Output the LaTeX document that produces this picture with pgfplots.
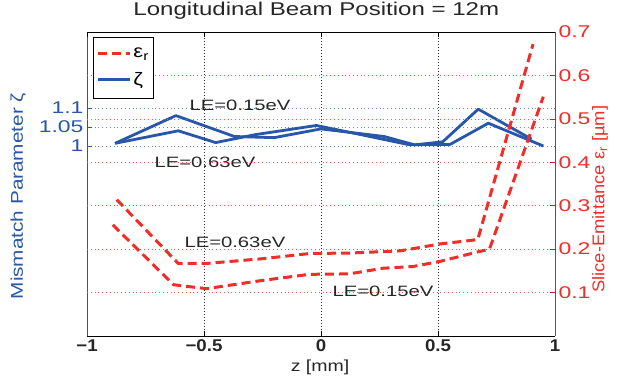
\documentclass[border=0pt]{standalone}
\usepackage{fontspec}
\setmainfont{Liberation Sans}
\newfontfamily\tickf[FakeStretch=1.35]{Liberation Sans}
\newfontfamily\xtickf[FakeStretch=1.1]{Liberation Sans}
\newfontfamily\lef[FakeStretch=1.35]{Liberation Sans}
\newfontfamily\labf[FakeStretch=1.22]{Liberation Sans}
\newfontfamily\labr[FakeStretch=1.08]{Liberation Sans}
\newfontfamily\titf[FakeStretch=1.3]{Liberation Sans}
\usepackage{pgfplots}
\pgfplotsset{compat=1.18}
\definecolor{zblue}{RGB}{40,86,168}
\definecolor{ered}{RGB}{240,45,40}
\definecolor{axred}{RGB}{205,35,40}
\begin{document}
\begin{tikzpicture}
\path[use as bounding box] (-87pt,-44pt) rectangle (530pt,336pt);
\pgfplotsset{every axis/.append style={scale only axis, width=468pt, height=304pt,
  xmin=-1, xmax=1, anchor=south west, at={(0pt,0pt)},
  /pgf/number format/assume math mode=true,
  tick align=inside, major tick length=5pt,
  every tick/.style={line width=0.6pt}}}
% left axis: mismatch parameter
\begin{axis}[
  axis y line*=left, axis x line*=bottom,
  ymin=0.5, ymax=1.3, ytick={1,1.05,1.1}, yticklabels={1,1.05,1.1},
  xtick={-1,-0.5,0,0.5,1}, xticklabels={−1,−0.5,0,0.5,1},
  xticklabel style={font=\xtickf\fontsize{17}{17}\selectfont\bfseries, text=black!85},
  yticklabel style={font=\tickf\fontsize{17}{17}\selectfont, text=zblue},
  x axis line style={black, line width=0.8pt, -},
  y axis line style={zblue, line width=0.8pt, -},
  ytick style={zblue}, xtick style={black},
  xmajorgrids, ymajorgrids,
  x grid style={black!80, line width=0.7pt, dash pattern=on 0.8pt off 2.2pt},
  y grid style={zblue!70, line width=0.7pt, dash pattern=on 0.8pt off 3pt},
  xlabel={z [mm]},
  xlabel style={font=\labf\fontsize{16}{16}\selectfont, text=black!85, at={(rel axis cs:0.498,-0.102)}, anchor=center},
  ylabel={Mismatch Parameter ζ},
  ylabel style={font=\labf\fontsize{17}{17}\selectfont, text=zblue, at={(rel axis cs:-0.147,0.46)}, anchor=center, rotate=0},
  title={Longitudinal Beam Position = 12m},
  title style={font=\titf\fontsize{18.5}{18.5}\selectfont, text=black!85, at={(rel axis cs:0.49,1.033)}, anchor=base},
]
\addplot[zblue, line width=2.8pt, line join=round] coordinates {
(-0.88,1.007) (-0.62,1.080) (-0.37,1.025) (-0.20,1.022) (0.0,1.045) (0.27,1.025) (0.40,1.003) (0.52,1.011) (0.672,1.097) (0.90,1.018)};
\addplot[zblue, line width=2.8pt, line join=round] coordinates {
(-0.88,1.007) (-0.61,1.040) (-0.45,1.009) (-0.28,1.030) (-0.02,1.054) (0.17,1.030) (0.38,1.003) (0.551,1.004) (0.715,1.060) (0.95,1.0)};
\node[font=\lef\fontsize{15}{15}\selectfont, text=black!85] at (axis cs:-0.346,1.108) {LE=0.15eV};
\node[font=\lef\fontsize{15}{15}\selectfont, text=black!85] at (axis cs:-0.496,0.958) {LE=0.63eV};
\end{axis}
% right axis: slice emittance
\begin{axis}[
  axis y line*=right, axis x line*=top,
  ymin=0, ymax=0.7, ytick={0.1,0.2,0.3,0.4,0.5,0.6,0.7},
  xtick={-1,-0.5,0,0.5,1}, xticklabels={},
  yticklabel style={font=\tickf\fontsize{17}{17}\selectfont, text=ered,
    /pgf/number format/.cd, fixed, fixed zerofill, precision=1},
  x axis line style={black, line width=0.8pt, -},
  y axis line style={axred, line width=0.8pt, -},
  ytick style={axred}, xtick style={black},
  ymajorgrids,
  y grid style={ered!80, line width=0.7pt, dash pattern=on 0.8pt off 3pt},
  ylabel={Slice-Emittance ε\textsubscript{r} [µm]},
  ylabel style={font=\labr\fontsize{17}{17}\selectfont, text=ered, at={(rel axis cs:1.096,0.45)}, anchor=center, rotate=0},
  legend style={at={(rel axis cs:0.013,0.984)}, anchor=north west, draw=black, line width=0.8pt,
    font=\labf\fontsize{18}{18}\selectfont, fill=white, inner xsep=3pt, inner ysep=9pt, row sep=9pt},
  legend cell align=left,
  legend image code/.code={\draw[#1] (0pt,0pt) -- (32pt,0pt);},
]
\addplot[ered, line width=3pt, dash pattern=on 9pt off 5pt] coordinates {
(-0.873,0.314) (-0.61,0.167) (-0.49,0.167) (-0.25,0.178) (-0.047,0.190) (0.12,0.191) (0.338,0.196) (0.509,0.212) (0.67,0.222) (0.906,0.672)};
\addlegendentry{ε\textsubscript{r}}
\addplot[ered, line width=3pt, dash pattern=on 9pt off 5pt, forget plot] coordinates {
(-0.89,0.256) (-0.63,0.118) (-0.49,0.109) (-0.25,0.128) (-0.05,0.142) (0.12,0.143) (0.265,0.156) (0.393,0.160) (0.51,0.172) (0.65,0.191) (0.72,0.200) (0.95,0.551)};
\addlegendimage{zblue, line width=2.8pt}
\addlegendentry{ζ}
\node[font=\lef\fontsize{15}{15}\selectfont, text=black!85] at (axis cs:-0.368,0.215) {LE=0.63eV};
\node[font=\lef\fontsize{15}{15}\selectfont, text=black!85] at (axis cs:0.265,0.102) {LE=0.15eV};
\end{axis}
\end{tikzpicture}
\end{document}
